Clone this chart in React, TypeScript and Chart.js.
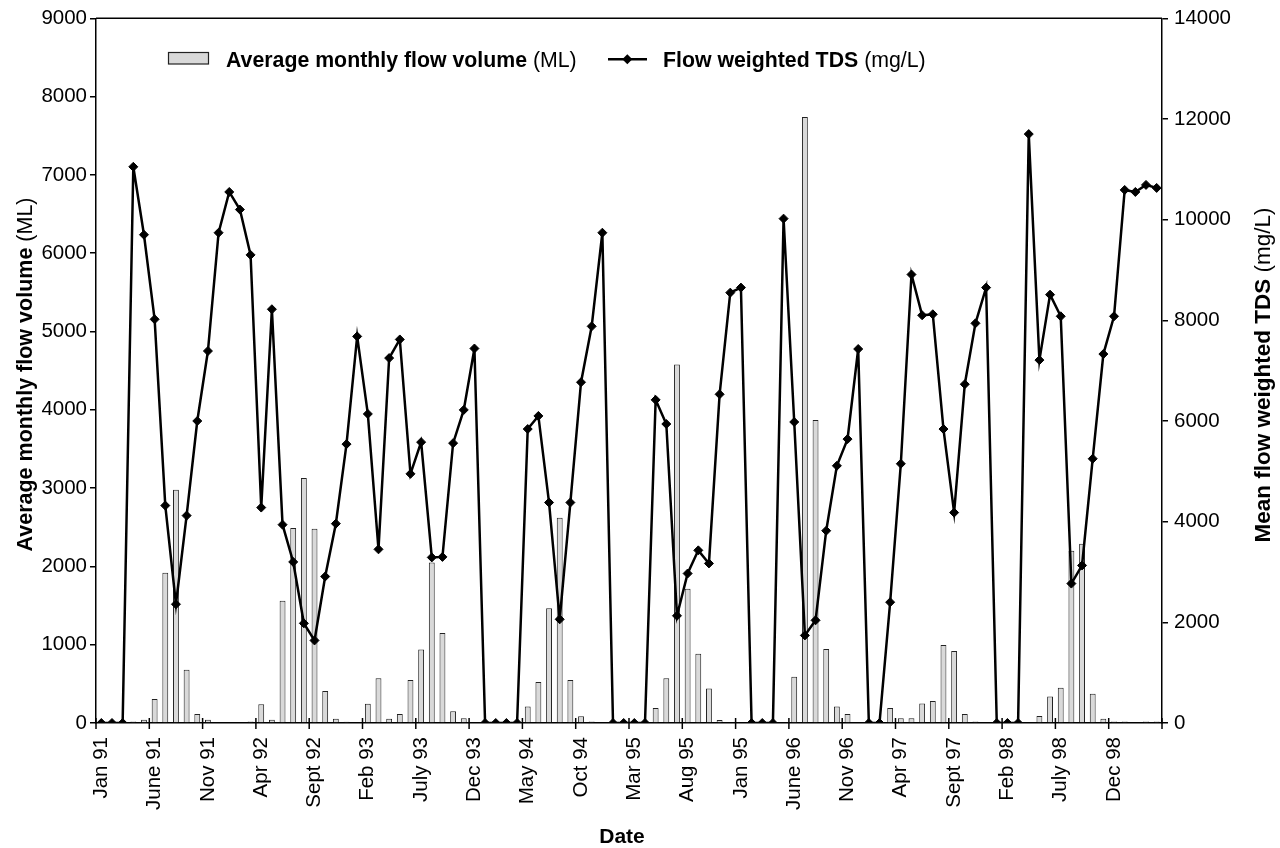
import React, { useEffect, useRef } from "react";
import { Chart, registerables } from "chart.js";

Chart.register(...registerables);

// Monthly categories, Jan 1991 .. Apr 1999
const months: string[] = [
  "Jan 91", "Feb 91", "Mar 91", "Apr 91", "May 91", "June 91", "July 91", "Aug 91", "Sept 91", "Oct 91", "Nov 91", "Dec 91",
  "Jan 92", "Feb 92", "Mar 92", "Apr 92", "May 92", "June 92", "July 92", "Aug 92", "Sept 92", "Oct 92", "Nov 92", "Dec 92",
  "Jan 93", "Feb 93", "Mar 93", "Apr 93", "May 93", "June 93", "July 93", "Aug 93", "Sept 93", "Oct 93", "Nov 93", "Dec 93",
  "Jan 94", "Feb 94", "Mar 94", "Apr 94", "May 94", "June 94", "July 94", "Aug 94", "Sept 94", "Oct 94", "Nov 94", "Dec 94",
  "Jan 95", "Feb 95", "Mar 95", "Apr 95", "May 95", "June 95", "July 95", "Aug 95", "Sept 95", "Oct 95", "Nov 95", "Dec 95",
  "Jan 96", "Feb 96", "Mar 96", "Apr 96", "May 96", "June 96", "July 96", "Aug 96", "Sept 96", "Oct 96", "Nov 96", "Dec 96",
  "Jan 97", "Feb 97", "Mar 97", "Apr 97", "May 97", "June 97", "July 97", "Aug 97", "Sept 97", "Oct 97", "Nov 97", "Dec 97",
  "Jan 98", "Feb 98", "Mar 98", "Apr 98", "May 98", "June 98", "July 98", "Aug 98", "Sept 98", "Oct 98", "Nov 98", "Dec 98",
  "Jan 99", "Feb 99", "Mar 99", "Apr 99",
];

// Labels shown on the axis (every fifth month), as printed in the original
const tickLabels: string[] = [
  "Jan 91", "June 91", "Nov 91", "Apr 92", "Sept 92", "Feb 93", "July 93", "Dec 93", "May 94", "Oct 94",
  "Mar 95", "Aug 95", "Jan 95", "June 96", "Nov 96", "Apr 97", "Sept 97", "Feb 98", "July 98", "Dec 98",
];

// Average monthly flow volume (ML)
const flowVolume: number[] = [
  0, 0, 0, 20, 42, 305, 1920, 2980, 680, 115,
  42, 0, 0, 0, 20, 240, 40, 1560, 2490, 3130,
  2480, 410, 55, 15, 0, 245, 570, 55, 115, 550,
  940, 2050, 1150, 150, 60, 0, 0, 0, 0, 0,
  210, 525, 1465, 2620, 550, 85, 20, 0, 0, 0,
  0, 0, 190, 570, 4580, 1715, 885, 440, 38, 0,
  0, 0, 0, 0, 0, 590, 7740, 3870, 945, 212,
  115, 0, 0, 0, 190, 60, 60, 250, 280, 995,
  920, 115, 20, 0, 0, 0, 0, 0, 90, 340,
  450, 2200, 2290, 375, 55, 20, 20, 0, 20, 20,
];

// Flow weighted TDS (mg/L)
const tdsValues: number[] = [
  0, 0, 0, 11050, 9700, 8020, 4320, 2360, 4120, 6000,
  7390, 9740, 10550, 10200, 9300, 4280, 8220, 3940, 3200, 1980,
  1640, 2910, 3960, 5540, 7680, 6140, 3450, 7250, 7620, 4950,
  5580, 3290, 3300, 5560, 6220, 7440, 0, 0, 0, 0,
  5840, 6100, 4380, 2060, 4380, 6770, 7880, 9740, 0, 0,
  0, 0, 6420, 5940, 2130, 2970, 3430, 3170, 6530, 8550,
  8650, 0, 0, 0, 10020, 5980, 1740, 2040, 3820, 5110,
  5640, 7430, 0, 0, 2400, 5150, 8910, 8100, 8120, 5840,
  4180, 6730, 7940, 8650, 0, 0, 0, 11700, 7210, 8510,
  8080, 2770, 3130, 5250, 7330, 8080, 10590, 10550, 10690, 10630,
];

const FONT = '"Liberation Sans", Arial, Helvetica, sans-serif';
const TICK_SIZE = 20.5;
const LEGEND_SIZE = 21.3;
const LEFT_TITLE_SIZE = 21.5;
const RIGHT_TITLE_SIZE = 22.5;
const DATE_SIZE = 21;

function drawMixed(
  ctx: CanvasRenderingContext2D,
  bold: string,
  regular: string,
  size: number,
  x: number,
  y: number,
  align: "left" | "center"
) {
  ctx.font = `bold ${size}px ${FONT}`;
  const wb = ctx.measureText(bold).width;
  ctx.font = `${size}px ${FONT}`;
  const wr = ctx.measureText(regular).width;
  const start = align === "center" ? x - (wb + wr) / 2 : x;
  ctx.textAlign = "left";
  ctx.textBaseline = "alphabetic";
  ctx.fillStyle = "#000";
  ctx.font = `bold ${size}px ${FONT}`;
  ctx.fillText(bold, start, y);
  ctx.font = `${size}px ${FONT}`;
  ctx.fillText(regular, start + wb, y);
}

const decorPlugin = {
  id: "decor",
  afterDraw(chart: any) {
    const ctx: CanvasRenderingContext2D = chart.ctx;
    const a = chart.chartArea;
    const xs = chart.scales.x;
    ctx.save();
    ctx.strokeStyle = "#000";
    ctx.lineWidth = 1.5;
    // top frame line
    ctx.beginPath();
    ctx.moveTo(a.left, a.top);
    ctx.lineTo(a.right, a.top);
    ctx.stroke();
    // crossing tick marks at category boundaries every 5 months
    const half = (xs.getPixelForValue(1) - xs.getPixelForValue(0)) / 2;
    const n = months.length;
    for (let i = 0; i <= n; i += 5) {
      const px = i < n ? xs.getPixelForValue(i) - half : xs.getPixelForValue(n - 1) + half;
      ctx.beginPath();
      ctx.moveTo(px, a.bottom - 5);
      ctx.lineTo(px, a.bottom + 6);
      ctx.stroke();
    }

    // Legend
    ctx.fillStyle = "#d9d9d9";
    ctx.fillRect(168.5, 52.5, 40, 11.5);
    ctx.strokeStyle = "#222";
    ctx.lineWidth = 1.2;
    ctx.strokeRect(168.5, 52.5, 40, 11.5);
    drawMixed(ctx, "Average monthly flow volume ", "(ML)", LEGEND_SIZE, 226, 66.5, "left");

    ctx.strokeStyle = "#000";
    ctx.lineWidth = 2.5;
    ctx.beginPath();
    ctx.moveTo(608, 59.3);
    ctx.lineTo(647, 59.3);
    ctx.stroke();
    ctx.fillStyle = "#000";
    ctx.beginPath();
    ctx.moveTo(627.3, 54.3);
    ctx.lineTo(632.3, 59.3);
    ctx.lineTo(627.3, 64.3);
    ctx.lineTo(622.3, 59.3);
    ctx.closePath();
    ctx.fill();
    drawMixed(ctx, "Flow weighted TDS ", "(mg/L)", LEGEND_SIZE, 663, 66.5, "left");

    // Axis titles
    ctx.save();
    ctx.translate(31.5, 374.5);
    ctx.rotate(-Math.PI / 2);
    drawMixed(ctx, "Average monthly flow volume ", "(ML)", LEFT_TITLE_SIZE, 0, 0, "center");
    ctx.restore();

    ctx.save();
    ctx.translate(1270, 375);
    ctx.rotate(-Math.PI / 2);
    drawMixed(ctx, "Mean flow weighted TDS ", "(mg/L)", RIGHT_TITLE_SIZE, 0, 0, "center");
    ctx.restore();

    drawMixed(ctx, "Date", "", DATE_SIZE, 622, 843, "center");
    ctx.restore();
  },
};

export default function App() {
  const canvasRef = useRef<HTMLCanvasElement | null>(null);

  useEffect(() => {
    if (!canvasRef.current) return;
    const chart = new Chart(canvasRef.current, {
      type: "bar",
      data: {
        labels: months,
        datasets: [
          {
            type: "line",
            label: "Flow weighted TDS (mg/L)",
            data: tdsValues,
            yAxisID: "y1",
            borderColor: "#000",
            borderWidth: 2.5,
            backgroundColor: "#000",
            pointStyle: "rectRot",
            pointRadius: 4.5,
            pointBorderWidth: 1,
            pointBackgroundColor: "#000",
            pointBorderColor: "#000",
            tension: 0,
            order: 1,
          } as any,
          {
            type: "bar",
            label: "Average monthly flow volume (ML)",
            data: flowVolume,
            yAxisID: "y",
            backgroundColor: "#d9d9d9",
            borderColor: "#222",
            borderWidth: 1,
            barPercentage: 0.55,
            categoryPercentage: 1,
            order: 2,
          },
        ],
      },
      options: {
        responsive: false,
        animation: false,
        layout: { padding: { top: 16, left: 0, right: 0, bottom: 0 } },
        plugins: {
          legend: { display: false },
          tooltip: { enabled: false },
          title: { display: false },
        },
        scales: {
          x: {
            type: "category",
            offset: true,
            grid: { display: true, drawOnChartArea: false, drawTicks: false },
            border: { display: true, color: "#000", width: 1.5 },
            ticks: {
              autoSkip: false,
              minRotation: 90,
              maxRotation: 90,
              padding: 14,
              color: "#000",
              font: { family: FONT, size: TICK_SIZE },
              callback: (_v: any, idx: number) => (idx % 5 === 0 ? tickLabels[idx / 5] : ""),
            },
            afterFit: (scale: any) => {
              scale.height = 125;
            },
          },
          y: {
            position: "left",
            min: 0,
            max: 9000,
            grid: { drawOnChartArea: false, drawTicks: true, tickLength: 6, color: "#000", lineWidth: 1.5 },
            border: { display: true, color: "#000", width: 1.5 },
            ticks: {
              stepSize: 1000,
              padding: 3,
              color: "#000",
              font: { family: FONT, size: TICK_SIZE },
              callback: (v: any) => String(v),
            },
            afterFit: (scale: any) => {
              scale.width = 96;
            },
          },
          y1: {
            position: "right",
            min: 0,
            max: 14000,
            grid: { drawOnChartArea: false, drawTicks: true, tickLength: 6, color: "#000", lineWidth: 1.5 },
            border: { display: true, color: "#000", width: 1.5 },
            ticks: {
              stepSize: 2000,
              padding: 6,
              color: "#000",
              font: { family: FONT, size: TICK_SIZE },
              callback: (v: any) => String(v),
            },
            afterFit: (scale: any) => {
              scale.width = 118;
            },
          },
        },
      },
      plugins: [decorPlugin],
    });
    return () => chart.destroy();
  }, []);

  return (
    <div style={{ position: "absolute", left: 0, top: 0, width: 1280, height: 848, background: "#fff" }}>
      <canvas ref={canvasRef} width={1280} height={848} style={{ width: 1280, height: 848, display: "block" }} />
    </div>
  );
}
